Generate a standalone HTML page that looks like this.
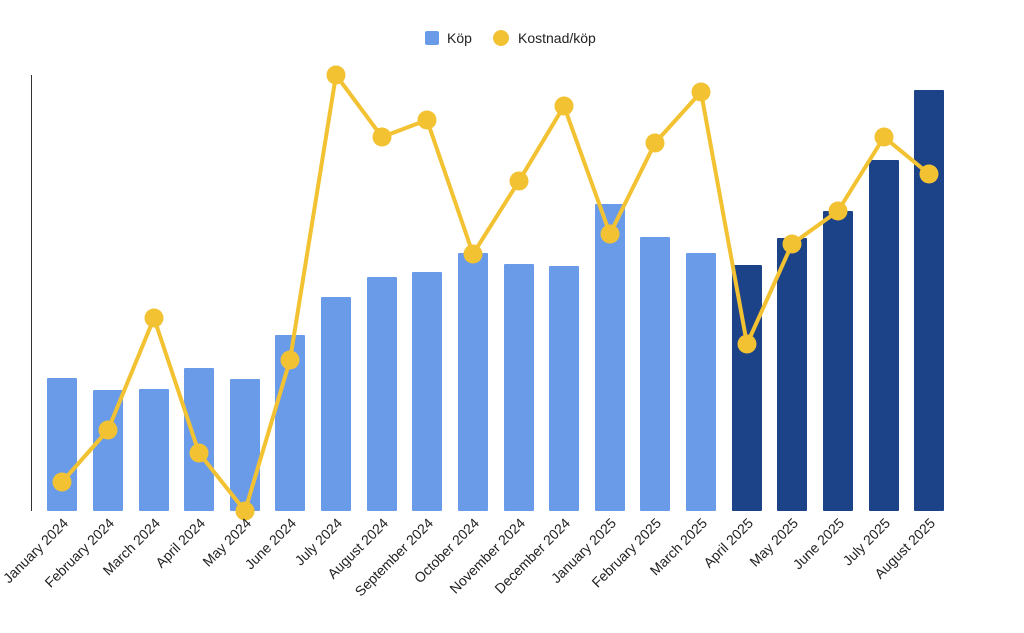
<!DOCTYPE html>
<html><head><meta charset="utf-8"><style>
body{margin:0;background:#fff;}
svg{display:block;font-family:"Liberation Sans",sans-serif;}
</style></head><body>
<svg width="1024" height="633" xmlns="http://www.w3.org/2000/svg">
<rect x="425" y="31" width="14" height="14" rx="2" fill="#6a9be8"/>
<text x="447" y="43" font-size="14" fill="#222">Köp</text>
<circle cx="501" cy="38" r="8" fill="#f2c232"/>
<text x="518" y="43" font-size="14" fill="#222">Kostnad/köp</text>
<line x1="31.5" y1="75" x2="31.5" y2="511" stroke="#333" stroke-width="1"/>
<g id="bars"></g>
<g id="line"></g>
<g id="labels" font-size="14" fill="#222"></g>
</svg>
<script>
var c=[62,108,154,199,245,290,336,382,427,473,519,564,610,655,701,747,792,838,884,929];
var t=[378,390,389,368,379,335,297,277,272,253,264,266,204,237,253,265,238,211,160,90];
var p=[482,430,318,453,511,360,75,137,120,254,181,106,234,143,92,344,244,211,137,174];
var L=["January 2024","February 2024","March 2024","April 2024","May 2024","June 2024","July 2024","August 2024","September 2024","October 2024","November 2024","December 2024","January 2025","February 2025","March 2025","April 2025","May 2025","June 2025","July 2025","August 2025"];
var ns="http://www.w3.org/2000/svg",b=document.getElementById("bars"),l=document.getElementById("line"),g=document.getElementById("labels");
function el(n,a,par){var e=document.createElementNS(ns,n);for(var k in a)e.setAttribute(k,a[k]);par.appendChild(e);return e;}
for(var i=0;i<20;i++){el("rect",{x:c[i]-15,y:t[i],width:30,height:511-t[i],rx:1,fill:i>=15?"#1c4287":"#6a9be8"},b);
var ax=c[i]+7,ay=524;
var tx=el("text",{x:ax,y:ay,"text-anchor":"end",transform:"rotate(-45 "+ax+" "+ay+")"},g);tx.textContent=L[i];}
el("polyline",{points:c.map(function(x,i){return x+","+p[i]}).join(" "),fill:"none",stroke:"#f2c232","stroke-width":4,"stroke-linejoin":"round"},l);
for(var i=0;i<20;i++)el("circle",{cx:c[i],cy:p[i],r:9.5,fill:"#f2c232"},l);
</script>
</body></html>
